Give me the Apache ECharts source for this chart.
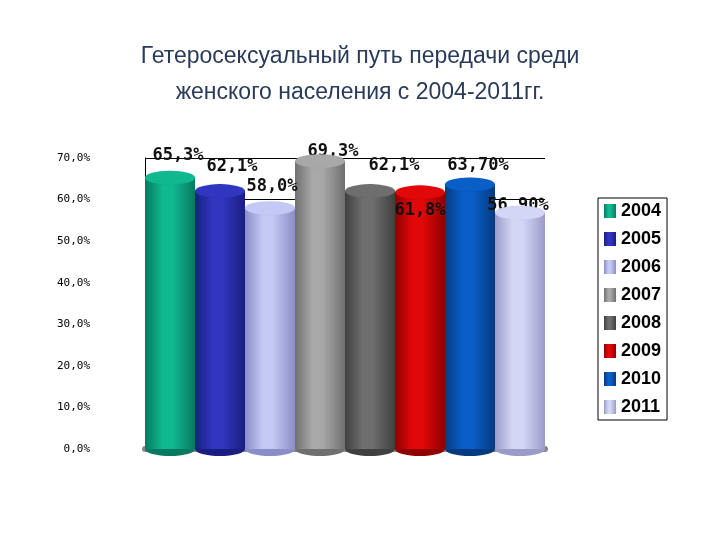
<!DOCTYPE html><html><head><meta charset="utf-8"><script src="https://cdn.jsdelivr.net/npm/echarts@6/dist/echarts.min.js"></script></head><body style="margin:0"><div id="c" style="width:720px;height:540px"></div><script>
const years=['2004','2005','2006','2007','2008','2009','2010','2011'];
const values=[65.3,62.1,58.0,69.3,62.1,61.8,63.7,56.9];
const labels=['65,3%','62,1%','58,0%','69,3%','62,1%','61,8%','63,70%','56,90%'];
const colors=['#10b890','#3036c0','#c4c8f4','#a8a8a8','#6e6e6e','#e00808','#0a5ec8','#d4d6f6'];
const dark=['#067a5e','#1a1e80','#8a8ec8','#707070','#404040','#900000','#053a80','#9a9cc8'];
const offs=[[8,-8],[12,-11],[2,-8],[13,4],[24,-12],[0,32],[8,-5],[-2,7]];
const chart=echarts.init(document.getElementById('c'));
const series=[];
years.forEach((y,i)=>{
 const d=years.map((_,j)=>j===i?values[i]:'-');
 series.push({name:y,type:'bar',data:d,barWidth:50,barGap:'-100%',z:2,
  itemStyle:{color:new echarts.graphic.LinearGradient(0,0,1,0,[{offset:0,color:dark[i]},{offset:0.35,color:colors[i]},{offset:0.55,color:colors[i]},{offset:1,color:dark[i]}])},
  label:{show:true,position:'top',offset:offs[i],formatter:labels[i],fontFamily:'DejaVu Sans Mono',fontWeight:'bold',fontSize:17,color:'#111'}});
});
series.push({type:'pictorialBar',symbol:'circle',symbolSize:[50,14],symbolPosition:'end',symbolOffset:[0,'-50%'],z:3,
 data:values.map((v,i)=>({value:v,itemStyle:{color:colors[i],borderColor:dark[i],borderWidth:1}})),tooltip:{show:false}});
series.push({type:'pictorialBar',symbol:'circle',symbolSize:[50,14],symbolPosition:'start',symbolOffset:[0,'50%'],z:1,
 data:values.map((v,i)=>({value:v,itemStyle:{color:dark[i]}}))});
chart.setOption({
 title:{text:'Гетеросексуальный путь передачи среди\nженского населения с 2004-2011гг.',left:'center',top:34,textStyle:{fontFamily:'Liberation Sans',fontWeight:'normal',fontSize:23,color:'#2a3a5a',lineHeight:36}},
 legend:{data:years,orient:'vertical',left:598,top:198,itemWidth:12,itemHeight:14,itemGap:10,padding:[4,6,4,6],borderColor:'#000',borderWidth:1,icon:'rect',
  textStyle:{fontFamily:'Liberation Sans',fontWeight:'bold',fontSize:18,color:'#000'}},
 color:colors,
 grid:{left:145,top:158,width:400,height:291},
 xAxis:{type:'category',data:years,axisLabel:{show:false},axisTick:{show:false},axisLine:{lineStyle:{color:'#888',width:6}}},
 yAxis:{type:'value',min:0,max:70,interval:10,axisLine:{show:true,lineStyle:{color:'#000'}},axisTick:{show:false},
  splitLine:{lineStyle:{color:'#000'}},
  axisLabel:{formatter:v=>v.toFixed(1).replace('.',',')+'%',fontFamily:'DejaVu Sans Mono',fontSize:11,color:'#000',margin:55}},
 series:series
});
</script></body></html>
